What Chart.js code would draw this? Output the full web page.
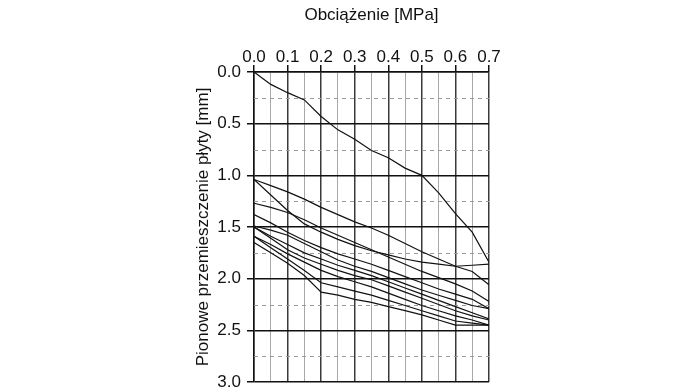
<!DOCTYPE html>
<html>
<head>
<meta charset="utf-8">
<script src="https://cdn.jsdelivr.net/npm/chart.js@4.4.1/dist/chart.umd.min.js"></script>
<style>
  html, body { margin: 0; padding: 0; background: #fff; }
  #wrap { width: 695px; height: 391px; }
</style>
</head>
<body>
<div id="wrap"><canvas id="chart"></canvas></div>
<script>
// Load steps [MPa]
const loads = [0, 0.05, 0.1, 0.15, 0.2, 0.25, 0.3, 0.35, 0.4, 0.45, 0.5, 0.55, 0.6, 0.65, 0.7];

// Vertical displacement [mm], one array per curve
const curveTop = [0, 0.12, 0.2, 0.27, 0.43, 0.56, 0.65, 0.76, 0.83, 0.93, 1.0, 1.17, 1.37, 1.55, 1.84];
const curveA = [1.04, 1.10, 1.16, 1.23, 1.31, 1.38, 1.45, 1.51, 1.58, 1.66, 1.74, 1.81, 1.88, 1.87, 1.86];
const curveB = [1.04, 1.19, 1.34, 1.47, 1.55, 1.62, 1.68, 1.73, 1.77, 1.81, 1.84, 1.86, 1.88, 1.93, 2.06];
const curveC = [1.27, 1.31, 1.36, 1.43, 1.51, 1.58, 1.65, 1.72, 1.79, 1.86, 1.93, 1.99, 2.05, 2.12, 2.22];
const curveD = [1.38, 1.46, 1.55, 1.63, 1.70, 1.76, 1.81, 1.86, 1.92, 1.98, 2.04, 2.10, 2.15, 2.20, 2.29];
const curveE = [1.49, 1.53, 1.58, 1.66, 1.74, 1.82, 1.88, 1.93, 1.99, 2.05, 2.11, 2.16, 2.21, 2.26, 2.29];
const curveF = [1.50, 1.59, 1.67, 1.75, 1.81, 1.87, 1.92, 1.97, 2.03, 2.09, 2.15, 2.21, 2.27, 2.33, 2.39];
const curveG = [1.50, 1.61, 1.72, 1.80, 1.86, 1.92, 1.97, 2.01, 2.07, 2.13, 2.19, 2.25, 2.31, 2.36, 2.40];
const curveI = [1.59, 1.67, 1.76, 1.84, 1.92, 1.98, 2.03, 2.08, 2.14, 2.20, 2.26, 2.31, 2.36, 2.40, 2.45];
const curveJ = [1.59, 1.70, 1.81, 1.92, 2.04, 2.08, 2.12, 2.16, 2.21, 2.26, 2.31, 2.36, 2.41, 2.43, 2.45];
const curveH = [1.65, 1.75, 1.85, 1.97, 2.13, 2.16, 2.20, 2.23, 2.27, 2.31, 2.35, 2.40, 2.45, 2.45, 2.45];

const curves = [curveTop, curveA, curveB, curveC, curveD, curveE, curveF, curveG, curveI, curveJ, curveH];

const xTitle = 'Obciążenie [MPa]';
const yTitle = 'Pionowe przemieszczenie płyty [mm]';

const font = 'Liberation Sans, Arial, sans-serif';

// dashed horizontal lines at the odd quarter values
const dashedGrid = {
    id: 'dashedGrid',
    beforeDatasetsDraw(chart) {
        const { ctx, chartArea, scales } = chart;
        ctx.save();
        ctx.strokeStyle = '#9a9a9a';
        ctx.lineWidth = 1;
        ctx.setLineDash([4, 4]);
        [0.25, 0.75, 1.25, 1.75, 2.25, 2.75].forEach(v => {
            const y = Math.round(scales.y.getPixelForValue(v)) + 0.5;
            ctx.beginPath();
            ctx.moveTo(chartArea.left, y);
            ctx.lineTo(chartArea.right, y);
            ctx.stroke();
        });
        ctx.restore();
    }
};

const isMajorX = v => Math.round(v * 20) % 2 === 0;
const isMajorY = v => Math.round(v * 4) % 2 === 0;

new Chart(document.getElementById('chart'), {
    type: 'line',
    data: {
        datasets: curves.map(c => ({
            data: loads.map((x, i) => ({ x: x, y: c[i] })),
            borderColor: '#111',
            borderWidth: 1.2,
            pointRadius: 0,
            fill: false,
            tension: 0
        }))
    },
    options: {
        responsive: true,
        maintainAspectRatio: false,
        animation: false,
        layout: { padding: { left: 190, right: 206, top: 0, bottom: 9 } },
        plugins: {
            legend: { display: false },
            tooltip: { enabled: false }
        },
        scales: {
            x: {
                type: 'linear',
                position: 'top',
                min: 0,
                max: 0.7,
                afterFit: s => { s.height = 72; },
                ticks: {
                    stepSize: 0.05,
                    autoSkip: false,
                    maxRotation: 0,
                    padding: -3,
                    color: '#111',
                    font: { family: font, size: 17 },
                    callback: v => isMajorX(v) ? v.toFixed(1) : ''
                },
                grid: {
                    color: c => isMajorX(c.tick.value) ? '#3a3a3a' : '#a8a8a8',
                    lineWidth: c => isMajorX(c.tick.value) ? 1.5 : 1,
                    tickColor: c => isMajorX(c.tick.value) ? '#111' : 'rgba(0,0,0,0)',
                    tickLength: 7
                },
                border: { color: '#111', width: 1.5 },
                title: {
                    display: true,
                    text: xTitle,
                    color: '#111',
                    font: { family: font, size: 17 },
                    padding: { top: 5, bottom: 12 }
                }
            },
            y: {
                type: 'linear',
                reverse: true,
                min: 0,
                max: 3,
                afterFit: s => {
                    s.width = 64;
                    s.paddingTop = 0;
                    s.paddingBottom = 0;
                },
                ticks: {
                    stepSize: 0.25,
                    autoSkip: false,
                    padding: 6,
                    color: '#111',
                    font: { family: font, size: 17 },
                    callback: v => isMajorY(v) ? v.toFixed(1) : ''
                },
                grid: {
                    color: c => isMajorY(c.tick.value) ? '#111' : 'rgba(0,0,0,0)',
                    lineWidth: 1.5,
                    tickColor: c => isMajorY(c.tick.value) ? '#111' : 'rgba(0,0,0,0)',
                    tickLength: 7
                },
                border: { color: '#111', width: 1.5 },
                title: {
                    display: true,
                    text: yTitle,
                    color: '#111',
                    font: { family: font, size: 17 },
                    padding: { top: 3, bottom: 4 }
                }
            }
        }
    },
    plugins: [dashedGrid]
});
</script>
</body>
</html>
